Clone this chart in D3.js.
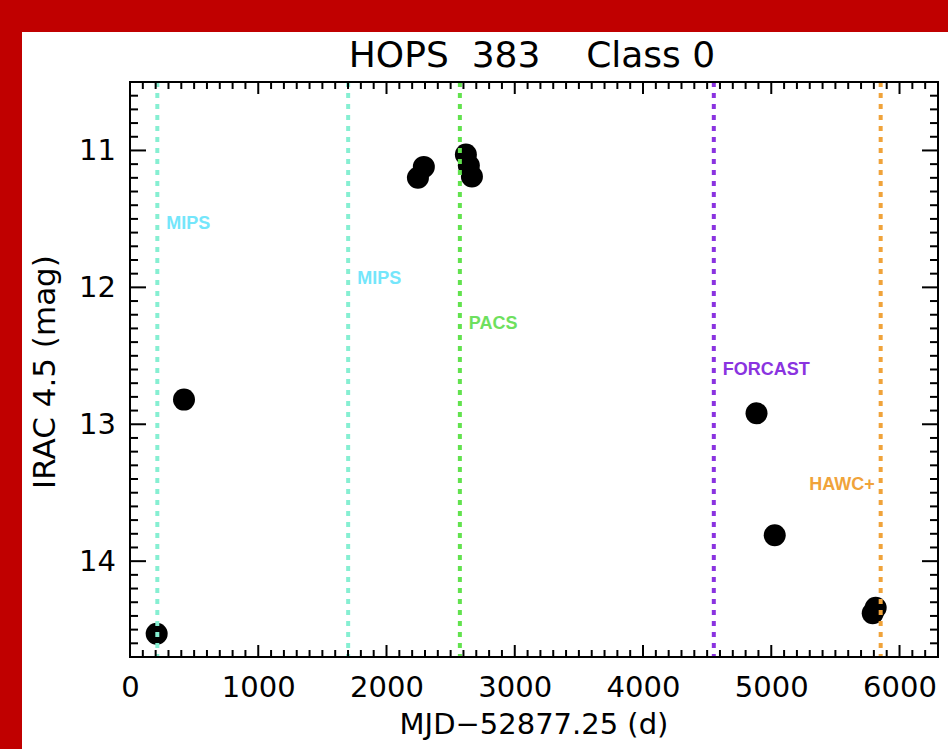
<!DOCTYPE html>
<html>
<head>
<meta charset="utf-8">
<script src="https://cdn.jsdelivr.net/npm/d3@7"></script>
<style>
  html, body { margin: 0; padding: 0; background: #c00000; }
  svg { display: block; }
</style>
</head>
<body>
<svg id="chart" width="948" height="749"></svg>
<script>
// ---- data ----
const xMajorTicks = [0, 1000, 2000, 3000, 4000, 5000, 6000];
const yMajorTicks = [11, 12, 13, 14];

const obsDays = [208, 421, 2245, 2291, 2619, 2642, 2666, 4885, 5027, 5791, 5814];
const obsMag  = [14.53, 12.82, 11.20, 11.12, 11.03, 11.11, 11.19, 12.92, 13.81, 14.38, 14.34];

const instNames  = ["MIPS", "MIPS", "PACS", "FORCAST", "HAWC+"];
const instDays   = [213, 1701, 2572, 4552, 5853];
const instLabelMag = [11.53, 11.93, 12.26, 12.59, 13.43];
const instLineColors  = ["#86efd2", "#86efd2", "#62e24e", "#8a33e0", "#f0a33a"];
const instLabelColors = ["#74e6fb", "#74e6fb", "#6ee05e", "#8a33e0", "#f0a33a"];
const instAnchor = ["start", "start", "start", "start", "end"];

const titleText = "HOPS  383    Class 0";
const xTitle = "MJD\u221252877.25 (d)";
const yTitle = "IRAC 4.5 (mag)";

// ---- layout ----
const W = 948, H = 749;
const plot = { left: 130, right: 938, top: 82, bottom: 657 };

const svg = d3.select("#chart");
svg.append("rect").attr("width", W).attr("height", H).attr("fill", "#c00000");
svg.append("rect").attr("x", 22).attr("y", 32).attr("width", W - 22).attr("height", H - 32).attr("fill", "#ffffff");

const x = d3.scaleLinear().domain([0, 6300]).range([plot.left, plot.right]);
const y = d3.scaleLinear().domain([10.5, 14.7]).range([plot.top, plot.bottom]);

// points
const pts = obsDays.map((d, i) => ({ d, m: obsMag[i] }));
svg.append("g").selectAll("circle").data(pts).join("circle")
  .attr("cx", p => x(p.d)).attr("cy", p => y(p.m)).attr("r", 11)
  .attr("fill", "#000");

// instrument lines
const inst = instNames.map((n, i) => ({ n, d: instDays[i], m: instLabelMag[i], lc: instLineColors[i], tc: instLabelColors[i], a: instAnchor[i] }));
svg.append("g").selectAll("line").data(inst).join("line")
  .attr("x1", p => x(p.d)).attr("x2", p => x(p.d))
  .attr("y1", plot.top).attr("y2", plot.bottom)
  .attr("stroke", p => p.lc).attr("stroke-width", 4)
  .attr("stroke-dasharray", "5,6");

svg.append("g").selectAll("text").data(inst).join("text")
  .attr("x", p => x(p.d) + (p.a === "end" ? -6 : 9))
  .attr("y", p => y(p.m))
  .attr("dy", "0.36em")
  .attr("text-anchor", p => p.a)
  .attr("fill", p => p.tc)
  .style("font-family", "'Liberation Sans', Arial, sans-serif")
  .style("font-weight", "bold")
  .style("font-size", "18px")
  .text(p => p.n);

// ---- frame ----
svg.append("rect")
  .attr("x", plot.left).attr("y", plot.top)
  .attr("width", plot.right - plot.left).attr("height", plot.bottom - plot.top)
  .attr("fill", "none").attr("stroke", "#000").attr("stroke-width", 2);

// ---- ticks ----
const axisFont = "'DejaVu Sans', sans-serif";
const xMinor = d3.range(0, 6301, 100).filter(v => v % 1000 !== 0);
const yMinor = d3.range(105, 148, 1).map(v => v / 10).filter(v => Math.abs(v - Math.round(v)) > 1e-6);

const xTickData = xMajorTicks.map(v => ({ v, len: 12 })).concat(xMinor.map(v => ({ v, len: 7 })));
const yTickData = yMajorTicks.map(v => ({ v, len: 16 })).concat(yMinor.map(v => ({ v, len: 8 })));

svg.append("g").selectAll("line").data(xTickData).join("line")
  .attr("x1", t => x(t.v)).attr("x2", t => x(t.v))
  .attr("y1", plot.bottom).attr("y2", t => plot.bottom - t.len)
  .attr("stroke", "#000").attr("stroke-width", 2);
svg.append("g").selectAll("line").data(xTickData).join("line")
  .attr("x1", t => x(t.v)).attr("x2", t => x(t.v))
  .attr("y1", plot.top).attr("y2", t => plot.top + t.len)
  .attr("stroke", "#000").attr("stroke-width", 2);
svg.append("g").selectAll("line").data(yTickData).join("line")
  .attr("y1", t => y(t.v)).attr("y2", t => y(t.v))
  .attr("x1", plot.left).attr("x2", t => plot.left + t.len)
  .attr("stroke", "#000").attr("stroke-width", 2);
svg.append("g").selectAll("line").data(yTickData).join("line")
  .attr("y1", t => y(t.v)).attr("y2", t => y(t.v))
  .attr("x1", plot.right).attr("x2", t => plot.right - t.len)
  .attr("stroke", "#000").attr("stroke-width", 2);

// tick labels through d3 axes
function styleLabels(g) {
  g.select(".domain").remove();
  g.selectAll(".tick line").remove();
  g.selectAll("text").style("font-family", axisFont).style("font-size", "29px").attr("fill", "#000");
}
svg.append("g").attr("transform", `translate(0,${plot.bottom})`)
  .call(d3.axisBottom(x).tickValues(xMajorTicks).tickSize(0).tickPadding(19).tickFormat(d3.format("d")))
  .call(styleLabels);
svg.append("g").attr("transform", `translate(${plot.left},0)`)
  .call(d3.axisLeft(y).tickValues(yMajorTicks).tickSize(0).tickPadding(14).tickFormat(d3.format("d")))
  .call(styleLabels);

// titles
svg.append("text").attr("x", 532).attr("y", 67).attr("text-anchor", "middle")
  .style("font-family", axisFont).style("font-size", "36px").style("white-space", "pre")
  .attr("fill", "#000").text(titleText);

svg.append("text").attr("x", (plot.left + plot.right) / 2).attr("y", 734).attr("text-anchor", "middle")
  .style("font-family", axisFont).style("font-size", "29px")
  .attr("fill", "#000").text(xTitle);

svg.append("text").attr("transform", `translate(55,372) rotate(-90)`)
  .attr("text-anchor", "middle")
  .style("font-family", axisFont).style("font-size", "31px")
  .attr("fill", "#000").text(yTitle);
</script>
</body>
</html>
